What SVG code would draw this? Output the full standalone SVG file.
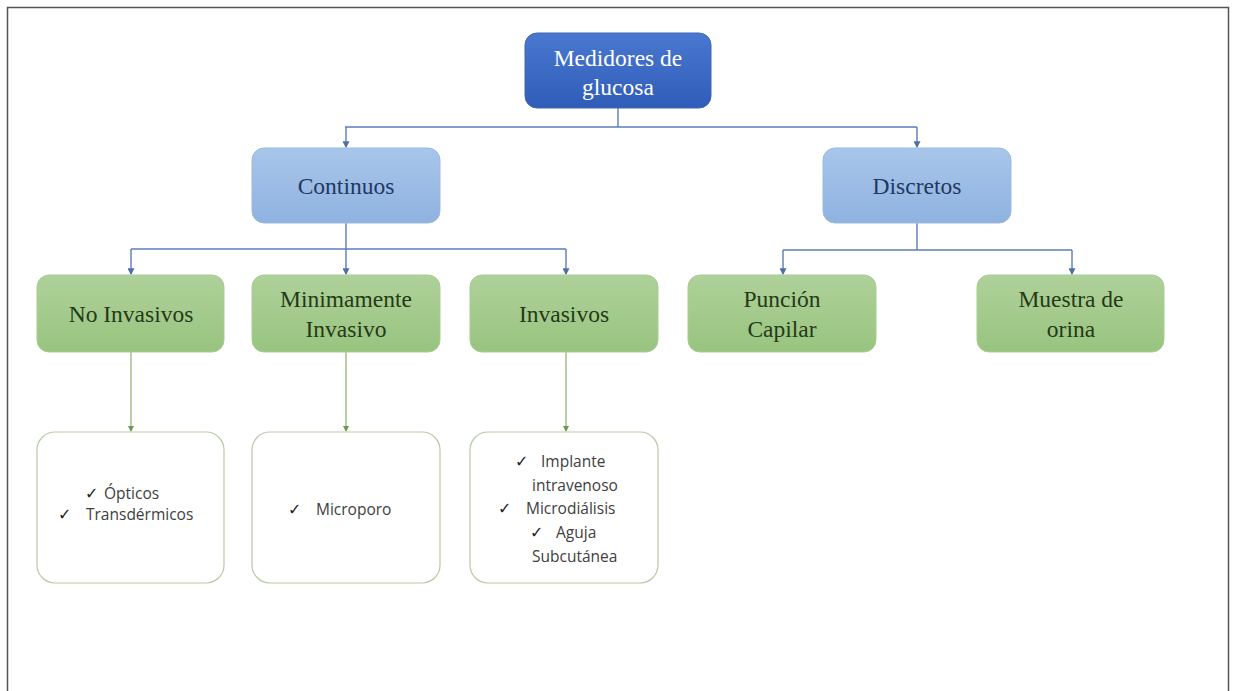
<svg xmlns="http://www.w3.org/2000/svg" width="1235" height="691" viewBox="0 0 1235 691">
<defs>
<linearGradient id="gRoot" x1="0" y1="0" x2="0" y2="1"><stop offset="0" stop-color="#4A78D0"/><stop offset="1" stop-color="#2F5CB8"/></linearGradient>
<linearGradient id="gBlue" x1="0" y1="0" x2="0" y2="1"><stop offset="0" stop-color="#A8C6EA"/><stop offset="1" stop-color="#8FB2E0"/></linearGradient>
<linearGradient id="gGreen" x1="0" y1="0" x2="0" y2="1"><stop offset="0" stop-color="#AFD19A"/><stop offset="1" stop-color="#98C47F"/></linearGradient>
<marker id="aB" viewBox="0 0 6 6" refX="5" refY="3" markerWidth="5" markerHeight="5" orient="auto"><path d="M0,0 L6,3 L0,6 z" fill="#4F6FA8"/></marker>
<marker id="aG" viewBox="0 0 6 6" refX="5" refY="3" markerWidth="5" markerHeight="5" orient="auto"><path d="M0,0 L6,3 L0,6 z" fill="#6E9A4E"/></marker>
</defs>
<style>
.ser{font-family:"Liberation Serif","DejaVu Serif",serif;font-size:23.5px;text-anchor:middle}
.san{font-family:"Open Sans","Liberation Sans",sans-serif;font-size:15.5px;fill:#404040}
.ck{font-family:"DejaVu Sans",sans-serif;font-size:16px;font-weight:bold;fill:#202020}
.cb{fill:none;stroke:#5B7DB8;stroke-width:1.4}
.cg{fill:none;stroke:#8DB06E;stroke-width:1.2}
.blue{fill:url(#gBlue);stroke:#9DB9E0;stroke-width:1}
.green{fill:url(#gGreen);stroke:#A9CC93;stroke-width:1}
.white{fill:#FFFFFF;stroke:#B9C9A6;stroke-width:1.2}
</style>
<rect width="1235" height="691" fill="#FFFFFF"/>
<path d="M7.5,691 V7.5 H1228.5 V691" fill="none" stroke="#555555" stroke-width="1.5"/>
<g id="connectors">
<path class="cb" d="M618,108 V127"/>
<path class="cb" d="M345,127 H917"/>
<path class="cb" d="M346,127 V147" marker-end="url(#aB)"/>
<path class="cb" d="M917,127 V147" marker-end="url(#aB)"/>
<path class="cb" d="M346,223 V249"/>
<path class="cb" d="M131,249 H566"/>
<path class="cb" d="M131,249 V274" marker-end="url(#aB)"/>
<path class="cb" d="M346,249 V274" marker-end="url(#aB)"/>
<path class="cb" d="M566,249 V274" marker-end="url(#aB)"/>
<path class="cb" d="M917,223 V250"/>
<path class="cb" d="M783,250 H1072"/>
<path class="cb" d="M783,250 V274" marker-end="url(#aB)"/>
<path class="cb" d="M1072,250 V274" marker-end="url(#aB)"/>
<path class="cg" d="M131,352 V431" marker-end="url(#aG)"/>
<path class="cg" d="M346,352 V431" marker-end="url(#aG)"/>
<path class="cg" d="M566,352 V431" marker-end="url(#aG)"/>
</g>
<g id="root">
<rect x="525" y="33" width="186" height="75" rx="12" fill="url(#gRoot)" stroke="#3E67B5"/>
<text class="ser" x="618" y="66" fill="#FFFFFF">Medidores de</text>
<text class="ser" x="618" y="95" fill="#FFFFFF">glucosa</text>
</g>
<g id="continuos">
<rect class="blue" x="252" y="148" width="188" height="75" rx="12"/>
<text class="ser" x="346" y="194" fill="#1F3864">Continuos</text>
</g>
<g id="discretos">
<rect class="blue" x="823" y="148" width="188" height="75" rx="12"/>
<text class="ser" x="917" y="194" fill="#1F3864">Discretos</text>
</g>
<g id="no-invasivos">
<rect class="green" x="37" y="275" width="187" height="77" rx="12"/>
<text class="ser" x="131" y="322" fill="#253A17">No Invasivos</text>
</g>
<g id="minimamente">
<rect class="green" x="252" y="275" width="188" height="77" rx="12"/>
<text class="ser" x="346" y="307" fill="#253A17">Minimamente</text>
<text class="ser" x="346" y="337" fill="#253A17">Invasivo</text>
</g>
<g id="invasivos">
<rect class="green" x="470" y="275" width="188" height="77" rx="12"/>
<text class="ser" x="564" y="322" fill="#253A17">Invasivos</text>
</g>
<g id="puncion">
<rect class="green" x="688" y="275" width="188" height="77" rx="12"/>
<text class="ser" x="782" y="307" fill="#253A17">Punción</text>
<text class="ser" x="782" y="337" fill="#253A17">Capilar</text>
</g>
<g id="muestra">
<rect class="green" x="977" y="275" width="187" height="77" rx="12"/>
<text class="ser" x="1071" y="307" fill="#253A17">Muestra de</text>
<text class="ser" x="1071" y="337" fill="#253A17">orina</text>
</g>
<g id="list-no-invasivos">
<rect class="white" x="37" y="432" width="187" height="151" rx="18"/>
<text class="ck" x="85" y="499">✓</text><text class="san" x="104" y="499">Ópticos</text>
<text class="ck" x="58" y="520">✓</text><text class="san" x="86" y="520">Transdérmicos</text>
</g>
<g id="list-minimamente">
<rect class="white" x="252" y="432" width="188" height="151" rx="18"/>
<text class="ck" x="288" y="515">✓</text><text class="san" x="316" y="515">Microporo</text>
</g>
<g id="list-invasivos">
<rect class="white" x="470" y="432" width="188" height="151" rx="18"/>
<text class="ck" x="515" y="467">✓</text><text class="san" x="541" y="467">Implante</text>
<text class="san" x="532" y="491">intravenoso</text>
<text class="ck" x="498" y="514">✓</text><text class="san" x="526" y="514">Microdiálisis</text>
<text class="ck" x="530" y="538">✓</text><text class="san" x="556" y="538">Aguja</text>
<text class="san" x="532" y="562">Subcutánea</text>
</g>
</svg>
